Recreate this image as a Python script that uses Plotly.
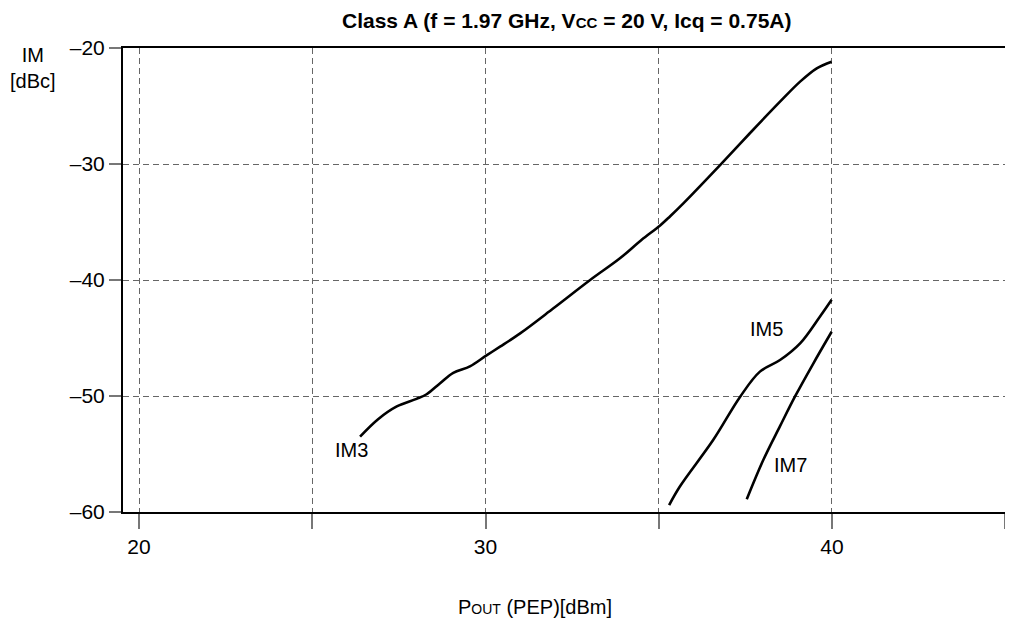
import plotly.graph_objects as go

# IM3 curve
im3_pout = [26.38, 26.9, 27.44, 28.01, 28.30, 28.69, 29.07, 29.55, 30.03, 30.42, 31.0, 31.96,
            33.02, 33.88, 34.5, 35.04, 35.33, 35.71, 36.77, 37.63, 38.5, 39.08, 39.56, 39.99]
im3_dbc = [-53.5, -52.0, -50.9, -50.25, -49.85, -48.9, -48.0, -47.45, -46.5, -45.75, -44.6, -42.44,
           -40.0, -38.13, -36.55, -35.3, -34.5, -33.39, -30.09, -27.35, -24.63, -22.9, -21.75, -21.18]

# IM5 curve
im5_pout = [35.30, 35.61, 36.57, 37.35, 37.92, 38.5, 39.08, 39.65, 39.99]
im5_dbc = [-59.4, -57.8, -53.8, -50.06, -47.9, -46.9, -45.46, -43.16, -41.7]

# IM7 curve
im7_pout = [37.54, 38.02, 38.5, 38.93, 39.46, 39.99]
im7_dbc = [-58.9, -55.5, -52.6, -50.06, -47.2, -44.46]

x_ticks = [20, 25, 30, 35, 40, 45]
x_ticktext = ["20", "", "30", "", "40", ""]
y_ticks = [-60, -50, -40, -30, -20]
y_ticktext = ["\u201360", "\u201350", "\u201340", "\u201330", "\u201320"]

curve_labels = ["IM3", "IM5", "IM7"]
label_x = [26.14, 38.11, 38.79]
label_y = [-54.66, -44.25, -55.95]

FAM = "Liberation Sans, Arial"
font = dict(family=FAM, size=20, color="black")

fig = go.Figure()
for xs, ys in [(im3_pout, im3_dbc), (im5_pout, im5_dbc), (im7_pout, im7_dbc)]:
    fig.add_trace(go.Scatter(x=xs, y=ys, mode="lines",
                             line=dict(color="black", width=2.6, shape="spline", smoothing=1.0),
                             showlegend=False, hoverinfo="skip"))

for t, lx, ly in zip(curve_labels, label_x, label_y):
    fig.add_annotation(x=lx, y=ly, text=t, showarrow=False, font=font,
                       xanchor="center", yanchor="middle")

fig.update_layout(
    width=1013, height=622,
    margin=dict(l=115, r=0, t=40, b=118),
    paper_bgcolor="white", plot_bgcolor="white",
    font=font,
    xaxis=dict(range=[19.538, 45.455], tickvals=x_ticks, ticktext=x_ticktext,
               showgrid=True, gridcolor="#666666", griddash="6px,4px", gridwidth=1,
               showline=True, linecolor="black", linewidth=2, mirror=True,
               ticks="outside", ticklen=15, tickcolor="#777777", tickwidth=1.5,
               ticklabelstandoff=0,
               zeroline=False, tickfont=dict(family=FAM, size=21, color="black")),
    yaxis=dict(range=[-60, -20], tickvals=y_ticks, ticktext=y_ticktext,
               showgrid=True, gridcolor="#666666", griddash="6px,4px", gridwidth=1,
               showline=True, linecolor="black", linewidth=2,
               ticks="outside", ticklen=12, tickcolor="#777777", tickwidth=1.5,
               ticklabelstandoff=0,
               zeroline=False, tickfont=dict(family=FAM, size=21, color="black")),
)

fig.add_annotation(xref="paper", yref="paper", x=0.494, y=1.060, xanchor="center", yanchor="middle",
                   text="<b>Class A (f = 1.97 GHz, V<span style='font-size:15px'>CC</span> = 20 V, Icq = 0.75A)</b>",
                   showarrow=False, font=dict(family=FAM, size=21, color="black"))
fig.add_annotation(xref="paper", yref="paper", x=0.459, y=-0.205, xanchor="center", yanchor="middle",
                   text="P<span style='font-size:14px'>OUT</span> (PEP)[dBm]",
                   showarrow=False, font=font)
fig.add_annotation(xref="paper", yref="paper", x=-0.10, y=0.957, xanchor="center", yanchor="middle",
                   text="IM<br>[dBc]", showarrow=False, align="center", font=font)

fig.write_html("out.html")
